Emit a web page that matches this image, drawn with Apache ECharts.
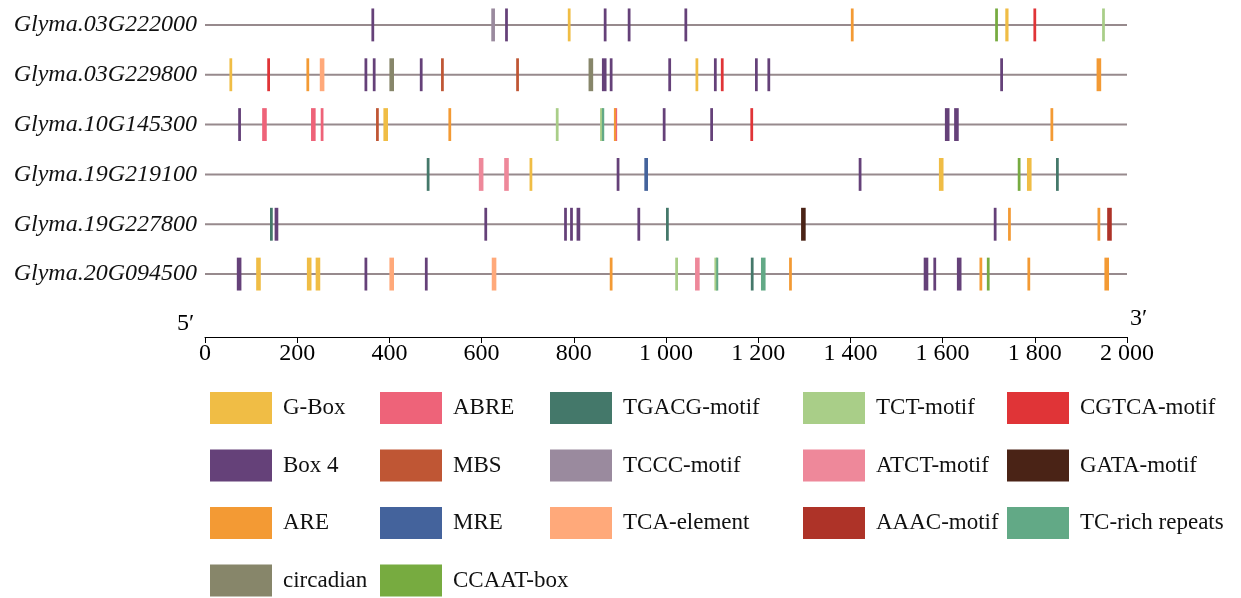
<!DOCTYPE html>
<html>
<head>
<meta charset="utf-8">
<script src="https://cdn.jsdelivr.net/npm/echarts@6/dist/echarts.min.js"></script>
<style>html,body{margin:0;padding:0;background:#fff}#c{width:1241px;height:598px}</style>
</head>
<body>
<div id="c"></div>
<script>
// ---- data ----
const genes = ["Glyma.03G222000","Glyma.03G229800","Glyma.10G145300","Glyma.19G219100","Glyma.19G227800","Glyma.20G094500"];
const promoterLength = 2000;
const xTicks = [0,200,400,600,800,1000,1200,1400,1600,1800,2000];
const motifTypes = ["G-Box","ABRE","TGACG-motif","TCT-motif","CGTCA-motif","Box 4","MBS","TCCC-motif","ATCT-motif","GATA-motif","ARE","MRE","TCA-element","AAAC-motif","TC-rich repeats","circadian","CCAAT-box"];
const motifColors = ["#F0BD45","#EE6379","#44786A","#A9CE88","#E03437","#654179","#BF5634","#9A8A9E","#EE889A","#4A2316","#F39A34","#44639C","#FFA97A","#AE3328","#62A986","#87866A","#77AB40"];
// motif sites per gene: [motif, start (bp), length (bp)]
const g03G222000 = [["Box 4",361,6],["TCCC-motif",621,8],["Box 4",651,6],["G-Box",787,6],["Box 4",865,6],["Box 4",917,6],["Box 4",1040,6],["ARE",1401,6],["CCAAT-box",1714,6],["G-Box",1736,7],["CGTCA-motif",1797,6],["TCT-motif",1946,6]];
const g03G229800 = [["G-Box",53,6],["CGTCA-motif",135,6],["ARE",220,6],["TCA-element",249,10],["Box 4",346,6],["Box 4",364,6],["circadian",400,10],["Box 4",466,6],["MBS",512,6],["MBS",675,6],["circadian",832,10],["Box 4",861,10],["Box 4",878,6],["Box 4",1005,6],["G-Box",1064,6],["Box 4",1104,6],["CGTCA-motif",1119,6],["Box 4",1193,6],["Box 4",1220,6],["Box 4",1725,6],["ARE",1934,10]];
const g10G145300 = [["Box 4",72,6],["ABRE",124,10],["ABRE",230,10],["ABRE",251,6],["MBS",371,6],["G-Box",387,10],["ARE",528,6],["TCT-motif",761,6],["TCT-motif",857,6],["TC-rich repeats",861,5],["ARE",887,4],["ABRE",888,6],["Box 4",993,6],["Box 4",1096,6],["CGTCA-motif",1183,6],["Box 4",1605,10],["Box 4",1625,10],["ARE",1834,6]];
const g19G219100 = [["TGACG-motif",481,6],["ATCT-motif",594,10],["ATCT-motif",649,10],["G-Box",704,6],["Box 4",893,6],["MRE",953,8],["Box 4",1418,6],["G-Box",1592,10],["CCAAT-box",1763,6],["G-Box",1783,10],["TGACG-motif",1846,6]];
const g19G227800 = [["TGACG-motif",141,6],["Box 4",151,8],["Box 4",606,6],["Box 4",779,6],["Box 4",792,6],["Box 4",806,8],["Box 4",938,6],["TGACG-motif",1000,6],["GATA-motif",1293,10],["Box 4",1711,6],["ARE",1742,6],["ARE",1936,6],["AAAC-motif",1957,10]];
const g20G094500 = [["Box 4",69,10],["G-Box",111,10],["G-Box",221,10],["G-Box",240,10],["Box 4",346,6],["TCA-element",400,10],["Box 4",477,6],["TCA-element",622,10],["ARE",878,6],["TCT-motif",1020,6],["ATCT-motif",1063,10],["TCT-motif",1105,6],["TC-rich repeats",1109,4],["TGACG-motif",1184,6],["TC-rich repeats",1206,10],["ARE",1267,6],["Box 4",1559,10],["Box 4",1580,6],["Box 4",1631,10],["ARE",1680,6],["CCAAT-box",1696,6],["ARE",1784,6],["ARE",1951,10]];
const geneSites = [g03G222000,g03G229800,g10G145300,g19G219100,g19G227800,g20G094500];
const legendColumns = [["G-Box","Box 4","ARE","circadian"],["ABRE","MBS","MRE","CCAAT-box"],["TGACG-motif","TCCC-motif","TCA-element"],["TCT-motif","ATCT-motif","AAAC-motif"],["CGTCA-motif","GATA-motif","TC-rich repeats"]];

// ---- chart ----
const FONT = "'Liberation Serif','Times New Roman',serif";
const chart = echarts.init(document.getElementById('c'), null, {renderer:'canvas'});

const backbone = {
  type:'custom', name:'backbone', silent:true, z:1,
  data: genes.map((g,i)=>[0, promoterLength, i]),
  encode:{x:[0,1], y:2},
  renderItem:(p, api)=>{
    const a = api.coord([api.value(0), api.value(2)]);
    const b = api.coord([api.value(1), api.value(2)]);
    return {type:'line', shape:{x1:a[0],y1:a[1],x2:b[0],y2:b[1]}, style:{stroke:'#978a8d', lineWidth:2}};
  }
};

const motifSeries = motifTypes.map((m,k)=>{
  const data = [];
  geneSites.forEach((sites,i)=>sites.forEach(s=>{ if(s[0]===m) data.push([s[1], s[2], i]); }));
  const col = motifColors[k];
  return {
    type:'custom', name:m, z:2,
    itemStyle:{color:col},
    data,
    encode:{x:0, y:2},
    renderItem:(p, api)=>{
      const st = api.coord([api.value(0), api.value(2)]);
      const en = api.coord([api.value(0)+api.value(1), api.value(2)]);
      const h = api.size([0,1])[1]*0.66;
      const w = Math.max(en[0]-st[0], 2);
      return {type:'rect', shape:{x:st[0], y:st[1]-h/2, width:w, height:h}, style:{fill:col}};
    }
  };
});

const colLefts = [210,380,550,803,1007];
const legends = legendColumns.map((names,ci)=>({
  data: names.map(n=>({name:n, icon:'rect'})),
  orient:'vertical', left: colLefts[ci], top: 392,
  itemWidth:62, itemHeight:32, itemGap:25.5, padding:0,
  selectedMode:false,
  textStyle:{fontFamily:FONT, fontSize:23, color:'#111', padding:[0,0,0,6]}
}));

chart.setOption({
  animation:false,
  backgroundColor:'#fff',
  grid:{left:205, right:114, top:-1, height:300},
  xAxis:{
    type:'value', min:0, max:promoterLength, interval:200, offset:38,
    axisLine:{show:true, lineStyle:{color:'#000', width:1}},
    axisTick:{show:true, length:6, lineStyle:{color:'#000'}},
    splitLine:{show:false},
    axisLabel:{fontFamily:FONT, fontSize:24, color:'#000', margin:5,
      formatter:v=>xTicks.includes(v) ? String(v).replace(/\B(?=(\d{3})+(?!\d))/g,' ') : ''}
  },
  yAxis:{
    type:'category', data:genes, inverse:true,
    axisLine:{show:false}, axisTick:{show:false}, splitLine:{show:false},
    axisLabel:{fontFamily:FONT, fontSize:24, fontStyle:'italic', color:'#111', margin:8}
  },
  legend: legends,
  graphic:[
    {type:'text', left:177, top:312, style:{text:'5′', font:'24px '+FONT, fill:'#000'}},
    {type:'text', left:1130, top:307, style:{text:'3′', font:'24px '+FONT, fill:'#000'}}
  ],
  series:[backbone, ...motifSeries]
});
</script>
</body>
</html>
